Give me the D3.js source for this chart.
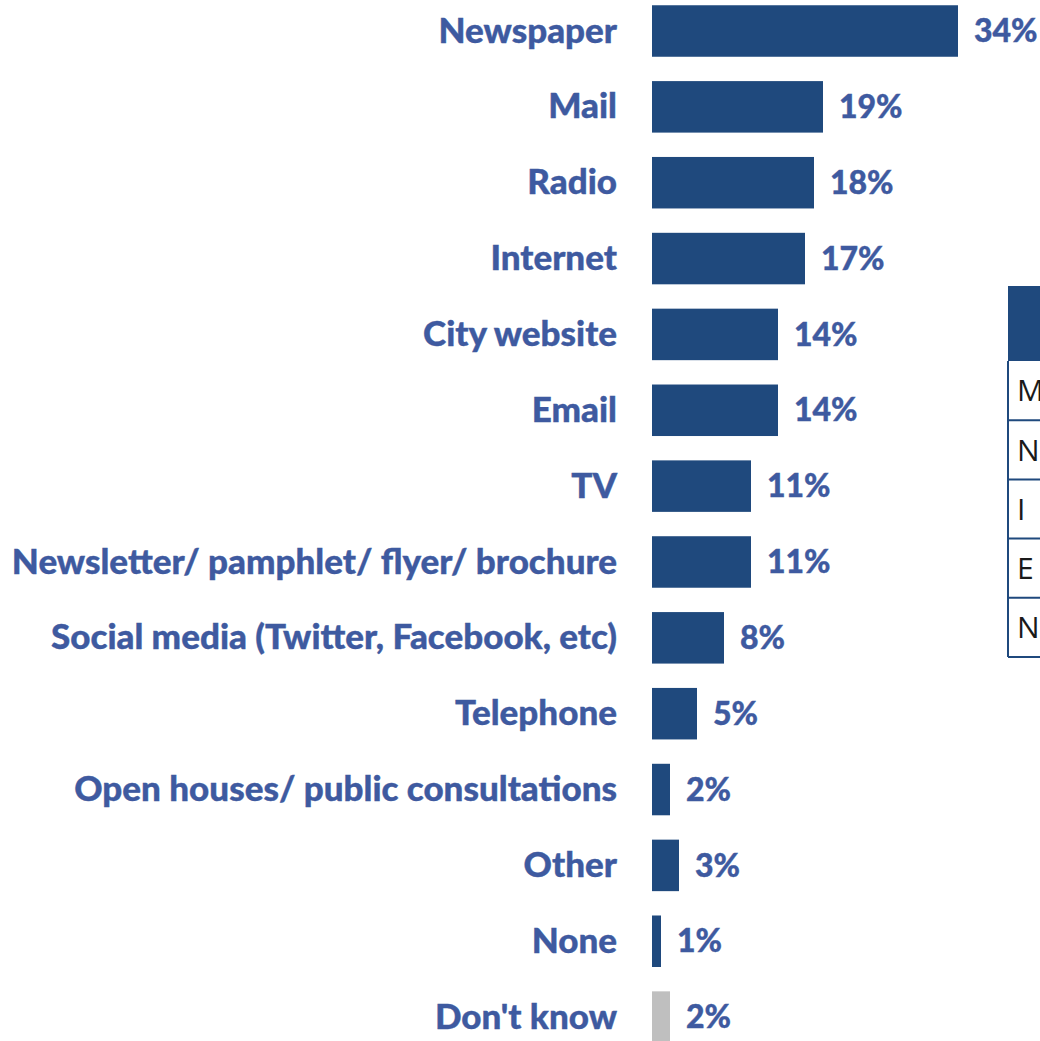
<!DOCTYPE html>
<html><head><meta charset="utf-8">
<script src="https://cdn.jsdelivr.net/npm/d3@7"></script>
<style>html,body{margin:0;padding:0;background:#fff;overflow:hidden}</style>
</head><body>
<script>
const categories = ["Newspaper","Mail","Radio","Internet","City website","Email","TV",
  "Newsletter/ pamphlet/ flyer/ brochure","Social media (Twitter, Facebook, etc)","Telephone",
  "Open houses/ public consultations","Other","None","Don't know"];
const values = [34,19,18,17,14,14,11,11,8,5,2,3,1,2];
const valueLabels = ["34%","19%","18%","17%","14%","14%","11%","11%","8%","5%","2%","3%","1%","2%"];
const tableRows = ["M","N","I","E","N"];

const W = 1040, H = 1041;
const svg = d3.select("body").append("svg").attr("width", W).attr("height", H);

const y = d3.scaleBand().domain(categories).range([-19.1, 1067.2]).paddingInner(0.321).paddingOuter(0.321);
const x = d3.scaleLinear().domain([0, 34]).range([652, 958]);

const barColor = "#1F497D", grey = "#BFBFBF", textColor = "#3E5AA0";
const font = "Lato, 'Open Sans', sans-serif";

svg.append("g").selectAll("rect").data(categories).join("rect")
  .attr("x", x(0)).attr("y", d => y(d))
  .attr("width", (d,i) => x(values[i]) - x(0))
  .attr("height", y.bandwidth())
  .attr("fill", d => d === "Don't know" ? grey : barColor);

svg.append("g").selectAll("text").data(categories).join("text")
  .attr("x", 617).attr("y", d => y(d) + y.bandwidth()/2)
  .attr("dy", "0.33em").attr("text-anchor", "end")
  .attr("font-family", font).attr("font-weight", 900).attr("font-size", 35)
  .attr("stroke", textColor).attr("stroke-width", 0.4)
  .attr("fill", textColor).text(d => d);

svg.append("g").selectAll("text").data(categories).join("text")
  .attr("x", (d,i) => x(values[i]) + 16).attr("y", d => y(d) + y.bandwidth()/2)
  .attr("dy", "0.35em")
  .attr("font-family", font).attr("font-weight", 900).attr("font-size", 32)
  .attr("stroke", textColor).attr("stroke-width", 0.4)
  .attr("fill", textColor).text((d,i) => valueLabels[i]);

// Side table (partially visible at right edge)
const t = svg.append("g");
const tx = 1008, headTop = 286, headBot = 361, rowH = 59.2;
t.append("rect").attr("x", tx).attr("y", headTop).attr("width", 60).attr("height", headBot - headTop).attr("fill", barColor);
const ty = d3.scaleBand().domain(d3.range(tableRows.length)).range([headBot, headBot + rowH * tableRows.length]);
t.append("line").attr("x1", tx).attr("x2", tx).attr("y1", headBot).attr("y2", ty.range()[1])
  .attr("stroke", barColor).attr("stroke-width", 2);
t.selectAll("line.r").data(tableRows).join("line").attr("class","r")
  .attr("x1", tx).attr("x2", 1060).attr("y1", (d,i) => ty(i) + ty.bandwidth()).attr("y2", (d,i) => ty(i) + ty.bandwidth())
  .attr("stroke", barColor).attr("stroke-width", 2);
t.selectAll("text").data(tableRows).join("text")
  .attr("x", 1017).attr("y", (d,i) => ty(i) + ty.bandwidth()/2).attr("dy", "0.36em")
  .attr("font-family", "'Open Sans', sans-serif").attr("font-size", 30).attr("fill", "#1a1a1a")
  .text(d => d);
</script>
</body></html>
